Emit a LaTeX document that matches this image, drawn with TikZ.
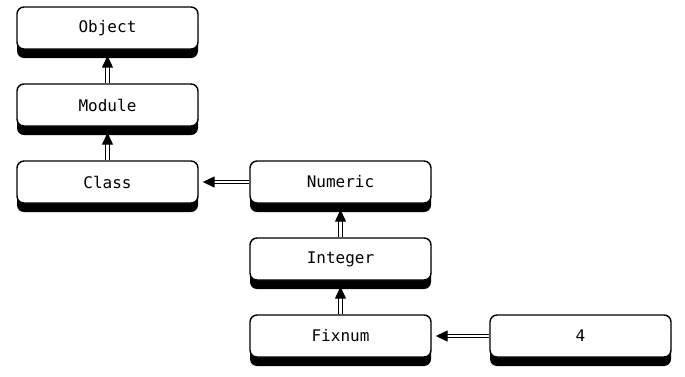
\documentclass[tikz,border=0pt]{standalone}
\usepackage{fontspec}
\setmonofont{DejaVu Sans Mono}
\usetikzlibrary{arrows.meta,shadows}
\tikzset{
  clsbox/.style={draw=black, line width=1.4pt, fill=white, rounded corners=7pt,
    minimum width=181pt, minimum height=42pt, inner sep=0pt,
    font=\ttfamily\fontsize{16}{19}\selectfont,
    general shadow={fill=black, shadow yshift=-9pt, rounded corners=7pt}},
  inh/.style={draw=black, line width=1.3pt, double=white, double distance=2.2pt,
    -{Triangle[length=12pt,width=11pt]}}
}
\begin{document}
\begin{tikzpicture}[x=1pt,y=-1pt]
\useasboundingbox (0,0) rectangle (685,376);
\node[clsbox] (object) at (107.5,28) {\raisebox{-2pt}{Object}};
\node[clsbox] (module) at (107.5,105) {\raisebox{-2pt}{Module}};
\node[clsbox] (class) at (107.5,182) {\raisebox{-2pt}{Class}};
\node[clsbox] (numeric) at (340.5,182) {\raisebox{-2pt}{Numeric}};
\node[clsbox] (integer) at (340.5,259) {\raisebox{-2pt}{Integer}};
\node[clsbox] (fixnum) at (340.5,336) {\raisebox{-2pt}{Fixnum}};
\node[clsbox] (four) at (580.5,336) {\raisebox{-2pt}{4}};
\draw[inh, shorten >=6pt] (module.north) -- (object.south);
\draw[inh, shorten >=6pt] (class.north) -- (module.south);
\draw[inh, shorten >=4pt] (numeric.west) -- (class.east);
\draw[inh, shorten >=6pt] (integer.north) -- (numeric.south);
\draw[inh, shorten >=6pt] (fixnum.north) -- (integer.south);
\draw[inh, shorten >=4pt] (four.west) -- (fixnum.east);
\end{tikzpicture}
\end{document}
